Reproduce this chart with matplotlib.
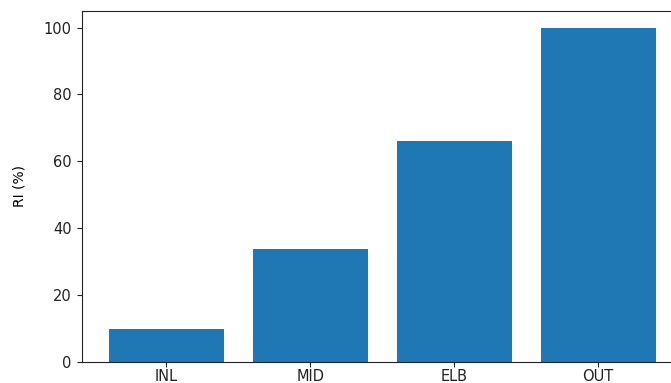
import matplotlib
matplotlib.use("Agg")
import matplotlib.pyplot as plt

categories = ["INL", "MID", "ELB", "OUT"]
ri_values = [10.0, 33.7, 66.1, 100.0]

W, H = 671, 383
fig = plt.figure(figsize=(W / 100, H / 100), dpi=100)
# axes extends past the right edge of the canvas
left, right, top, bottom = 81.5, 683.0, 10.8, 362.0
ax = fig.add_axes([left / W, 1 - bottom / H, (right - left) / W, (bottom - top) / H])

ax.bar(categories, ri_values, color="#1f77b4", width=0.8)
ax.set_ylabel("RI (%)", fontsize=10)
ax.yaxis.set_label_coords((27 - left) / (right - left), 0.5)
ax.tick_params(axis="y", labelsize=10.5, colors="#222222")
ax.tick_params(axis="x", labelsize=10.5, pad=1.5, colors="#222222")
for s in ax.spines.values():
    s.set_color("#222222")

fig.savefig("out.png", dpi=100)
